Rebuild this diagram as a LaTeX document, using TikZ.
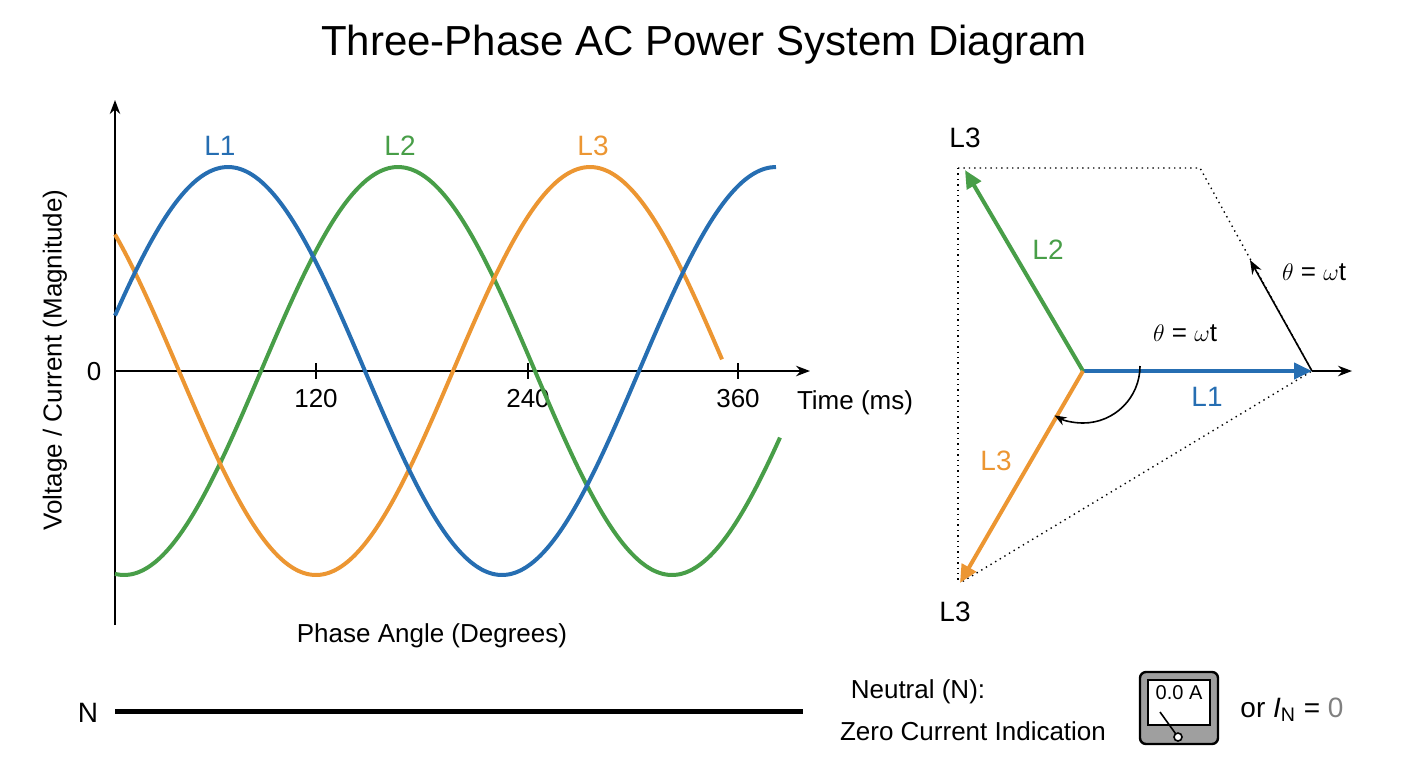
\documentclass[tikz,border=0pt]{standalone}
\usepackage{fontspec}
\setmainfont{Liberation Sans}
\usetikzlibrary{arrows.meta}
\definecolor{pblue}{RGB}{38,110,178}
\definecolor{pgreen}{RGB}{72,158,72}
\definecolor{porange}{RGB}{236,150,50}
\tikzset{
  wave/.style={line width=2pt, smooth, samples=120},
  lbl/.style={font=\fontsize{14}{16}\selectfont},
  axlbl/.style={font=\fontsize{13}{15}\selectfont},
  phasor/.style={line width=2pt, -{Triangle[length=9pt,width=8pt]}},
}
\begin{document}
\begin{tikzpicture}[x=0.5pt,y=-0.5pt]
  \useasboundingbox (0,0) rectangle (1408,768);
  \node (title) at (704,45) {\fontsize{21}{25}\selectfont Three-Phase AC Power System Diagram};
  % waveform axes
  \draw[line width=0.8pt,-{Stealth[length=7pt]}] (115,625) -- (115,100);
  \draw[line width=0.8pt,-{Stealth[length=7pt]}] (115,371) -- (810,371);
  \foreach \t in {316,528,738} \draw[line width=0.8pt] (\t,363) -- (\t,379);
  \node[axlbl] (zero) at (94,372) {0};
  \node[axlbl] (t120) at (316,399) {120};
  \node[axlbl] (t240) at (528,399) {240};
  \node[axlbl] (t360) at (738,399) {360};
  \node[axlbl] (tlab) at (855,403) {Time (ms)};
  \node[axlbl,rotate=90] (ylab) at (55,360) {Voltage / Current (Magnitude)};
  \node[axlbl] (phase) at (432,636) {Phase Angle (Degrees)};
  % waves (period 548px)
  \draw[wave,pgreen] plot[domain=115:780] (\x,{371-204*cos(0.65693*(\x-398))});
  \draw[wave,porange] plot[domain=115:722] (\x,{371-204*cos(0.65693*(\x-590))});
  \draw[wave,pblue] plot[domain=115:776] (\x,{371-204*cos(0.65693*(\x-228))});
  \node[lbl,pblue] (w1) at (220,146) {L1};
  \node[lbl,pgreen] (w2) at (400,146) {L2};
  \node[lbl,porange] (w3) at (593,146) {L3};
  % phasor diagram
  \coordinate (o) at (1083,371);
  \coordinate (p1) at (1312,371);
  \coordinate (p2) at (965,170);
  \coordinate (p3) at (960,583);
  \coordinate (tl) at (958,168);
  \coordinate (tr) at (1200,168);
  \coordinate (bl) at (958,583);
  \draw[dotted,line width=0.7pt] (tl) -- (tr) -- (p1) -- (p3);
  \draw[dotted,line width=0.7pt] (tl) -- (bl);
  \coordinate (xend) at (1352,371);
  \draw[line width=0.8pt,-{Stealth[length=7pt]}] (p1) -- (xend);
  \draw[phasor,pblue] (o) -- (p1);
  \draw[phasor,pgreen] (o) -- (p2);
  \draw[phasor,porange] (o) -- (p3);
  \node[lbl,pblue] (v1) at (1207,397) {L1};
  \node[lbl,pgreen] (v2) at (1048,250) {L2};
  \node[lbl,porange] (v3) at (996,461) {L3};
  \node[lbl] (top3) at (965,138) {L3};
  \node[lbl] (bot3) at (955,612) {L3};
  \draw[line width=0.8pt,-{Stealth[length=6pt]}] (1140,366) arc[start angle=0,end angle=120,radius=57];
  \node[axlbl] (ang1) at (1185,333) {$\theta$ = $\omega$t};
  \coordinate (rot) at (1250,260);
  \draw[line width=0.8pt,-{Stealth[length=7pt]}] (p1) -- (rot);
  \node[axlbl,anchor=west] (ang2) at (1275,272) {$\theta$ = $\omega$t};
  % neutral
  \node[lbl] (n) at (88,713) {N};
  \coordinate (nend) at (803,711);
  \draw[line width=2.5pt] (115,711) -- (nend);
  \node[axlbl] (neu) at (918,692) {Neutral (N):};
  \node[axlbl] (zci) at (973,731) {Zero Current Indication};
  \draw[line width=1.2pt,fill=gray!75,rounded corners=3pt] (1140,672) rectangle (1218,744);
  \draw[line width=0.8pt,fill=white] (1148,680) rectangle (1210,725);
  \node[font=\fontsize{10}{12}\selectfont] (meter) at (1179,693) {0.0 A};
  \draw[line width=0.8pt] (1178,737) -- (1160,712);
  \draw[line width=0.8pt,fill=white] (1178,737) circle (4);
  \node[lbl] (inz) at (1292,710) {or \textit{I}\textsubscript{N} = \textcolor{gray}{0}};
\end{tikzpicture}
\end{document}
